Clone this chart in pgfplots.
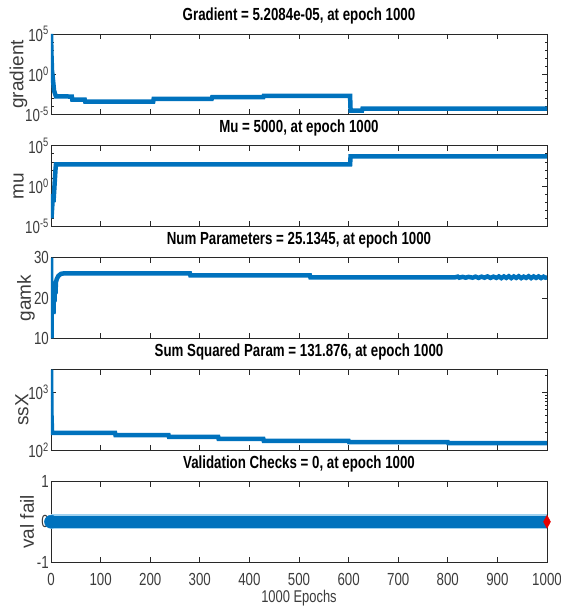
\documentclass[border=0pt]{standalone}
\usepackage{fontspec}
\setmainfont{Liberation Sans}[FakeStretch=0.76]
\newfontfamily\ylabfont{Liberation Sans}
\usepackage{pgfplots}
\pgfplotsset{compat=1.18}
\usepgfplotslibrary{groupplots}
\definecolor{mblue}{RGB}{0,114,189}
\definecolor{mlight}{RGB}{160,210,240}
\definecolor{tickgray}{RGB}{60,60,60}
\definecolor{framegray}{RGB}{40,40,40}
\definecolor{mred}{RGB}{230,0,0}
\begin{document}
\begin{tikzpicture}
\begin{groupplot}[
  group style={group size=1 by 5, vertical sep=31.375pt},
  scale only axis, width=496pt, height=80.5pt,
  xmin=0, xmax=1000, xtick={0,100,...,1000},
  tick align=inside, tick pos=both,
  major tick length=5pt, minor tick length=2.5pt,
  axis line style={framegray, line width=0.9pt},
  every tick/.style={framegray, line width=0.9pt},
  /pgf/number format/assume math mode=true,
  /pgf/number format/1000 sep={},
  tick label style={font=\fontsize{17.5}{19}\selectfont, text=tickgray},
  xticklabel style={anchor=base, yshift=-23pt},
  yticklabel style={anchor=east, inner sep=0pt, xshift=-2pt},
  title style={font=\fontsize{17.5}{19}\selectfont\bfseries, at={(axis description cs:0.5,1)}, anchor=base, yshift=7.5pt},
  ylabel style={font=\fontsize{19}{21}\selectfont\ylabfont, text=tickgray, anchor=center, rotate=0},
]
% ---------- panel 1
\nextgroupplot[
  title={Gradient = 5.2084e-05, at epoch 1000},
  ylabel={gradient}, ylabel style={at={(axis description cs:-0.0655,0.5)}},
  ymode=log, ymin=1e-5, ymax=1e5,
  ytick={1e-5,1,1e5}, yticklabels={10\textsuperscript{-5},10\textsuperscript{0},10\textsuperscript{5}},
  minor ytick={1e-4,1e-3,1e-2,1e-1,1e1,1e2,1e3,1e4},
  xticklabels={}]
\addplot[mblue, line width=4.5pt] coordinates {
 (0,1e5) (1,2e2) (2,3) (3,0.8) (4,0.2) (5,0.05) (6,0.01) (8,4e-3) (10,1.8e-3)
 (42,1.7e-3) (43,7e-4) (68,7e-4) (69,4e-4) (206,4e-4) (207,8.7e-4)
 (324,8.7e-4) (325,1.4e-3) (428,1.4e-3) (429,2.1e-3) (603,2.1e-3)
 (604,3e-5) (627,3e-5) (628,5.2e-5) (1000,5.2e-5)};
% ---------- panel 2
\nextgroupplot[
  title={Mu = 5000, at epoch 1000},
  ylabel={mu}, ylabel style={at={(axis description cs:-0.0655,0.5)}},
  ymode=log, ymin=1e-5, ymax=1e5,
  ytick={1e-5,1,1e5}, yticklabels={10\textsuperscript{-5},10\textsuperscript{0},10\textsuperscript{5}},
  minor ytick={1e-4,1e-3,1e-2,1e-1,1e1,1e2,1e3,1e4},
  xticklabels={}]
\addplot[mblue, line width=4.5pt] coordinates {
 (0,1e-3) (1,1e-4) (2,1e-3) (3,1e-2) (4,1e-1) (5,1e-2) (6,1e-1) (7,1) (8,10) (9,100) (10,500)
 (603,500) (604,5000) (1000,5000)};
% ---------- panel 3
\nextgroupplot[
  title={Num Parameters = 25.1345, at epoch 1000},
  ylabel={gamk}, ylabel style={at={(axis description cs:-0.0504,0.5)}},
  ymin=10, ymax=30, ytick={10,20,30},
  xticklabels={}]
\addplot[mblue, line width=4.5pt] coordinates {
 (0,30) (1,10) (2,24) (3,17) (4,23) (5,16) (6,22) (7,19) (8,23) (9,21) (10,24)
 (12,24.8) (15,25.5) (20,26) (25,26.1) (280,26.1) (281,25.6) (522,25.6) (523,25.15)
 (815,25.15) (820,25.3) (823,25.05) (830,25.25) (836,25.05) (842,25.25) (850,25.05)
 (856,25.3) (862,25.0) (868,25.3) (874,25.05) (880,25.35) (886,25.0) (892,25.3)
 (898,25.0) (903,25.35) (908,24.95) (913,25.35) (918,25.0) (923,25.4) (928,24.95)
 (933,25.35) (938,25.0) (943,25.4) (948,24.95) (953,25.3) (958,25.0) (963,25.4)
 (968,24.95) (973,25.35) (978,25.0) (983,25.35) (988,24.95) (993,25.3) (997,25.05) (1000,25.13)};
% ---------- panel 4
\nextgroupplot[
  title={Sum Squared Param = 131.876, at epoch 1000},
  ylabel={ssX}, ylabel style={at={(axis description cs:-0.0585,0.5)}},
  ymode=log, ymin=100, ymax=2500,
  ytick={100,1000}, yticklabels={10\textsuperscript{2},10\textsuperscript{3}},
  minor ytick={200,300,400,500,600,700,800,900,2000},
  xticklabels={}]
\addplot[mblue, line width=4.5pt] coordinates {
 (0,2500) (1,400) (2,215) (3,200) (129,200) (130,183) (237,183) (238,170)
 (337,170) (338,157) (428,157) (429,145) (600,145) (601,138) (800,138) (801,132) (1000,132)};
% ---------- panel 5
\nextgroupplot[
  title={Validation Checks = 0, at epoch 1000},
  ylabel={val fail}, ylabel style={at={(axis description cs:-0.0484,0.5)}},
  ymin=-1, ymax=1, ytick={-1,0,1},
  xlabel={1000 Epochs},
  xlabel style={at={(axis description cs:0.5,0)}, anchor=base, yshift=-40.5pt, font=\fontsize{17}{19}\selectfont, text=tickgray},
  clip=false, set layers]
\addplot[on layer=axis background, only marks, mark=*, mark size=6.5pt, mark options={draw=mblue, fill=mblue, line width=0.5pt}] coordinates {(0,0)};
\addplot[mlight, line width=15pt] coordinates {(0,0) (1000,0)};
\addplot[mblue, line width=12.5pt] coordinates {(0,0) (1000,0)};
\addplot[only marks, mark=diamond*, mark size=6.5pt, mark options={draw=mred, fill=mred, xscale=0.72}] coordinates {(1000,0)};
\end{groupplot}
\pgfresetboundingbox
\path[use as bounding box] ([xshift=-51pt,yshift=34pt]group c1r1.north west) rectangle ([xshift=14pt,yshift=-45pt]group c1r5.south east);
\end{tikzpicture}
\end{document}
